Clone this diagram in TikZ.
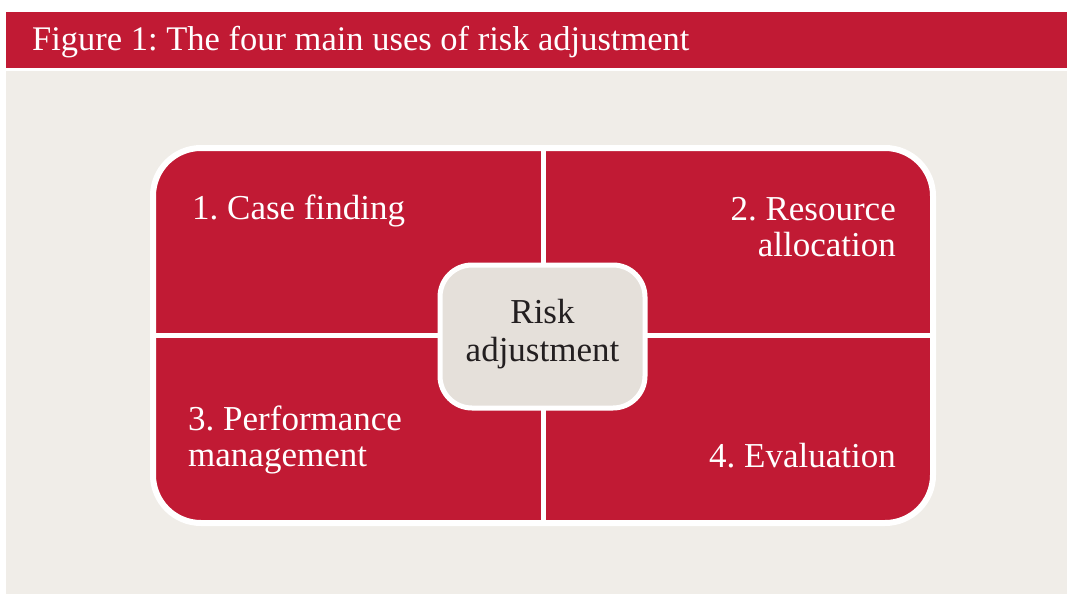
\documentclass[tikz,border=0pt]{standalone}
\usepackage{fontspec}
\setmainfont{Liberation Serif}
\usetikzlibrary{positioning}
\definecolor{riskred}{RGB}{193,26,52}
\definecolor{paper}{RGB}{240,237,232}
\definecolor{coregrey}{RGB}{229,224,218}
\definecolor{ink}{RGB}{35,31,32}
\frenchspacing

\begin{document}
\begin{tikzpicture}[x=1pt,y=-1pt,
    quadbox/.style={fill=riskred,draw=white,line width=6pt,rounded corners=48pt,
      minimum width=780pt,minimum height=375pt,inner sep=0pt},
    divider/.style={draw=white,line width=5pt},
    corebox/.style={fill=coregrey,draw=white,line width=5pt,rounded corners=32pt,
      minimum width=205pt,minimum height=143pt,align=center,text=ink,
      text depth=13pt,font=\fontsize{35}{38}\selectfont},
    quadtext/.style={text=white,font=\fontsize{35}{36}\selectfont,inner sep=0pt},
    titletext/.style={text=white,font=\fontsize{34.5}{36}\selectfont,inner sep=0pt}]
  \useasboundingbox (0,0) rectangle (1067,594);
  \fill[white] (0,0) rectangle (1067,594);
  \fill[riskred] (6,12) rectangle (1067,68);
  \fill[paper] (6,71) rectangle (1067,594);
  \node[titletext,anchor=base west] (title) at (32,51) {Figure 1: The four main uses of risk adjustment};

  \node[quadbox] (quad) at (543,335.5) {};
  \draw[divider] (quad.north) -- (quad.south);
  \draw[divider] (quad.west) -- (quad.east);
  \node[corebox] (core) at (542.5,336.5) {Risk\\adjustment};

  \node[quadtext,anchor=base west] (find) at (192,219) {1. Case finding};
  \node[quadtext,align=right,anchor=base east] (alloc) at (896,256) {2. Resource\\allocation};
  \node[quadtext,align=left,anchor=base west] (perf) at (188,466) {3. Performance\\management};
  \node[quadtext,anchor=base east] (eval) at (896,467) {4. Evaluation};
\end{tikzpicture}
\end{document}
